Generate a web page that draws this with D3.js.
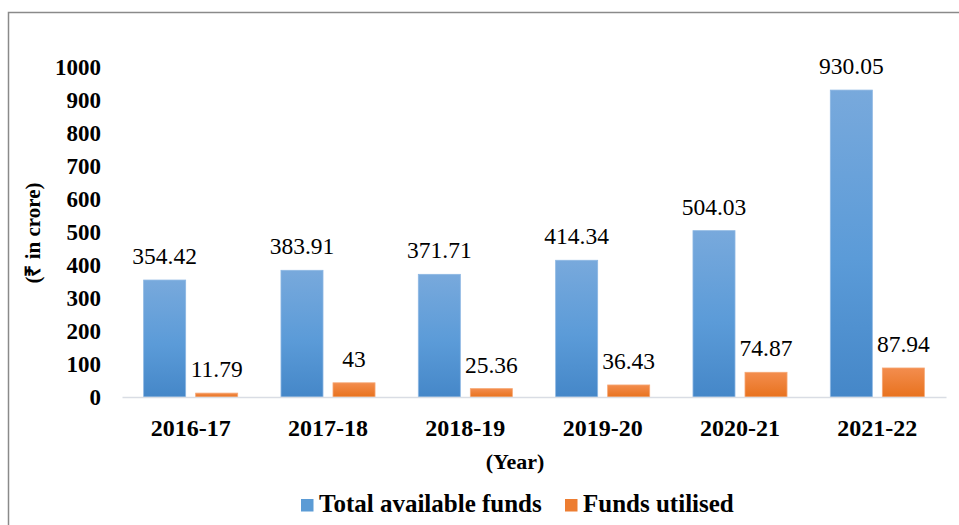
<!DOCTYPE html>
<html>
<head>
<meta charset="utf-8">
<script src="https://cdn.jsdelivr.net/npm/d3@7/dist/d3.min.js"></script>
<style>
  html, body { margin: 0; padding: 0; background: #fff; }
  svg { display: block; font-family: "Liberation Serif", "Times New Roman", serif; }
</style>
</head>
<body>
<svg id="chart" width="959" height="525"></svg>
<script>
const categories = ["2016-17", "2017-18", "2018-19", "2019-20", "2020-21", "2021-22"];
const seriesNames = ["Total available funds", "Funds utilised"];
const totalAvailable = [354.42, 383.91, 371.71, 414.34, 504.03, 930.05];
const fundsUtilised = [11.79, 43, 25.36, 36.43, 74.87, 87.94];
const yTicks = [0, 100, 200, 300, 400, 500, 600, 700, 800, 900, 1000];
const valueLabels = [
  ["354.42", "383.91", "371.71", "414.34", "504.03", "930.05"],
  ["11.79", "43", "25.36", "36.43", "74.87", "87.94"]
];

const svg = d3.select("#chart");
const W = 959, H = 525;

// frame (cropped chart border)
svg.append("path")
  .attr("d", `M8.5,${H} L8.5,12.5 L${W},12.5`)
  .attr("fill", "none")
  .attr("stroke", "#8a8a8a")
  .attr("stroke-width", 1.5);

const defs = svg.append("defs");
const gradBlue = defs.append("linearGradient").attr("id", "gBlue")
  .attr("x1", 0).attr("y1", 0).attr("x2", 0).attr("y2", 1);
gradBlue.append("stop").attr("offset", "0%").attr("stop-color", "#78a9dc");
gradBlue.append("stop").attr("offset", "55%").attr("stop-color", "#5b9bd8");
gradBlue.append("stop").attr("offset", "100%").attr("stop-color", "#4587c8");
const gradOrange = defs.append("linearGradient").attr("id", "gOrange")
  .attr("x1", 0).attr("y1", 0).attr("x2", 0).attr("y2", 1);
gradOrange.append("stop").attr("offset", "0%").attr("stop-color", "#f38d4e");
gradOrange.append("stop").attr("offset", "100%").attr("stop-color", "#e8721e");

const fills = ["url(#gBlue)", "url(#gOrange)"];
const strokes = ["#8db7e3", "#f6a774"];
const legendColors = ["#5b9bd5", "#ed7d31"];

const y = d3.scaleLinear().domain([0, 1000]).range([397, 67]);
const x0 = d3.scaleBand().domain(categories).range([122, 946]).paddingInner(0).paddingOuter(0);
const x1 = d3.scaleBand().domain([0, 1]).range([0, x0.bandwidth()]).paddingInner(0.192).paddingOuter(0.416);

// y axis tick labels (no line)
const yAxis = d3.axisLeft(y).tickValues(yTicks).tickSize(0).tickPadding(0).tickFormat(d3.format("d"));
const gy = svg.append("g").attr("transform", "translate(101,0)").call(yAxis);
gy.select(".domain").remove();
gy.selectAll("text")
  .attr("font-family", "'Liberation Serif', 'Times New Roman', serif")
  .attr("font-size", 23).attr("font-weight", "bold").attr("fill", "#000");

const seriesData = [totalAvailable, fundsUtilised];

// bars
seriesData.forEach((vals, s) => {
  svg.append("g").selectAll("rect")
    .data(categories)
    .join("rect")
    .attr("x", (c) => x0(c) + x1(s))
    .attr("width", x1.bandwidth())
    .attr("y", (c, i) => y(vals[i]))
    .attr("height", (c, i) => y(0) - y(vals[i]))
    .attr("fill", fills[s])
    .attr("stroke", strokes[s])
    .attr("stroke-width", 0.8);
});

// x axis baseline
const xAxis = d3.axisBottom(x0).tickSize(0).tickPadding(0);
const gx = svg.append("g").attr("transform", `translate(0,${y(0)})`).call(xAxis);
gx.select(".domain").attr("stroke", "#d9dde4").attr("stroke-width", 1.5);
gx.selectAll("text")
  .attr("y", 39).attr("dy", 0)
  .attr("font-family", "'Liberation Serif', 'Times New Roman', serif")
  .attr("font-size", 24).attr("font-weight", "bold").attr("fill", "#000");

// value labels
seriesData.forEach((vals, s) => {
  svg.append("g").selectAll("text")
    .data(categories)
    .join("text")
    .attr("x", (c) => x0(c) + x1(s) + x1.bandwidth() / 2)
    .attr("y", (c, i) => y(vals[i]) - 16)
    .attr("text-anchor", "middle")
    .attr("font-size", 23.5)
    .attr("fill", "#000")
    .text((c, i) => valueLabels[s][i]);
});

// axis titles
svg.append("text")
  .attr("x", 515).attr("y", 469)
  .attr("text-anchor", "middle")
  .attr("font-size", 22).attr("font-weight", "bold")
  .text("(Year)");

svg.append("text")
  .attr("transform", "translate(40,233) rotate(-90)")
  .attr("text-anchor", "middle")
  .attr("font-size", 21).attr("font-weight", "bold")
  .text("(₹ in crore)");

// legend
const legendX = [301, 565];
const lg = svg.append("g");
seriesNames.forEach((name, s) => {
  lg.append("rect")
    .attr("x", legendX[s]).attr("y", 499)
    .attr("width", 12.5).attr("height", 12.5)
    .attr("fill", legendColors[s]);
  lg.append("text")
    .attr("x", legendX[s] + 18).attr("y", 512)
    .attr("font-size", 25).attr("font-weight", "bold")
    .text(name);
});
</script>
</body>
</html>
